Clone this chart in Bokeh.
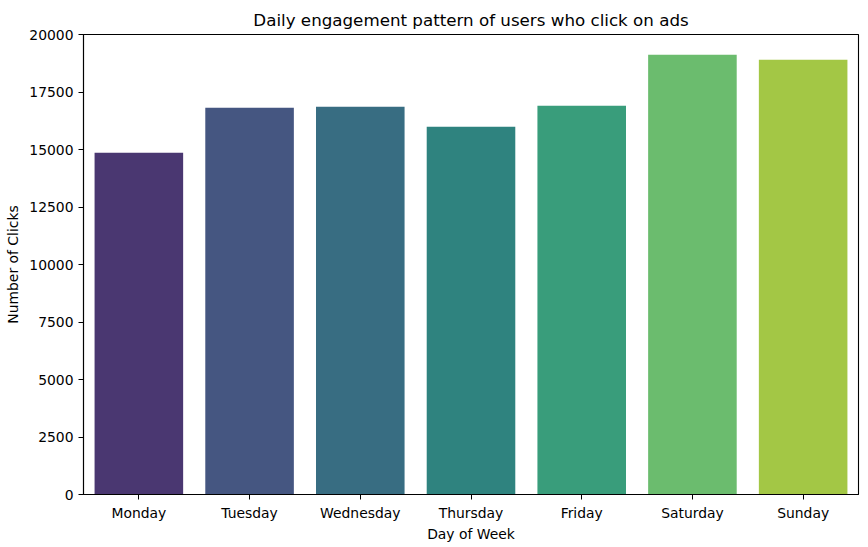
import colorsys
from bokeh.plotting import figure
from bokeh.models import ColumnDataSource, FixedTicker, Range1d, FactorRange
from bokeh.embed import file_html
from bokeh.resources import INLINE

days = ["Monday", "Tuesday", "Wednesday", "Thursday", "Friday", "Saturday", "Sunday"]
clicks = [14860, 16815, 16858, 15990, 16902, 19118, 18900]
y_ticks = [0, 2500, 5000, 7500, 10000, 12500, 15000, 17500, 20000]

# seaborn viridis(7) palette, desaturated by 0.75 as in barplot
base = ["#472d7b", "#3b528b", "#2c728e", "#21918c", "#28ae80", "#5ec962", "#addc30"]


def desat(h, s=0.75):
    r, g, b = (int(h[i:i + 2], 16) / 255 for i in (1, 3, 5))
    hh, l, ss = colorsys.rgb_to_hls(r, g, b)
    r, g, b = colorsys.hls_to_rgb(hh, l, ss * s)
    return "#%02x%02x%02x" % (round(r * 255), round(g * 255), round(b * 255))


colors = [desat(c) for c in base]

src = ColumnDataSource(dict(day=days, clicks=clicks, color=colors))

FONT = "DejaVu Sans"
p = figure(
    x_range=FactorRange(*days),
    y_range=Range1d(0, 20000),
    frame_width=775, frame_height=460,
    min_border_left=83, min_border_right=10, min_border_top=34, min_border_bottom=53,
    output_backend="svg", toolbar_location=None,
    title="Daily engagement pattern of users who click on ads",
)
p.vbar(x="day", top="clicks", width=0.8, color="color", line_color=None, source=src)

p.title.align = "center"
p.title.text_font = FONT
p.title.text_font_size = "16.7px"
p.title.text_font_style = "normal"
p.title.text_color = "black"

p.xgrid.visible = False
p.ygrid.visible = False
p.outline_line_color = "black"
p.outline_line_width = 1.1

p.yaxis.ticker = FixedTicker(ticks=y_ticks)
p.xaxis.axis_label = "Day of Week"
p.yaxis.axis_label = "Number of Clicks"
for ax in (p.xaxis, p.yaxis):
    ax.axis_label_text_font = FONT
    ax.axis_label_text_font_size = "13.9px"
    ax.axis_label_text_font_style = "normal"
    ax.axis_label_text_color = "black"
    ax.major_label_text_font = FONT
    ax.major_label_text_font_size = "13.9px"
    ax.major_label_text_color = "black"
    ax.major_tick_out = 5
    ax.major_tick_in = 0
    ax.minor_tick_out = 0
    ax.minor_tick_in = 0
    ax.major_tick_line_color = "black"
    ax.axis_line_color = "black"
    ax.axis_line_width = 1.1
    ax.major_label_standoff = 5
p.xaxis.axis_label_standoff = 2
p.yaxis.axis_label_standoff = 5
p.yaxis.formatter.use_scientific = False

open("out.html", "w").write(file_html(p, INLINE))
